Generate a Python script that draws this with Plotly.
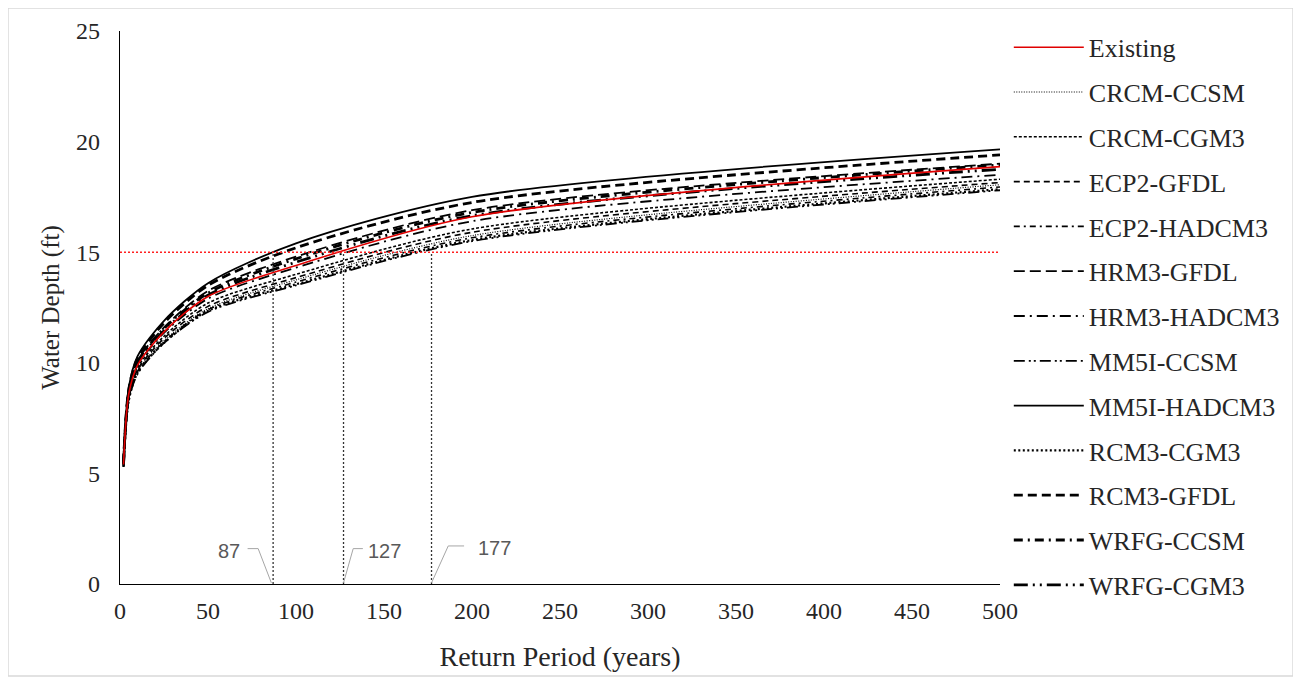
import plotly.graph_objects as go

# Return periods (years)
return_period = [2, 5, 10, 25, 50, 100, 200, 500]

# Water depth (ft) per scenario
existing     = [5.40, 8.60, 9.90, 11.40, 13.00, 14.40, 16.60, 18.87]
crcm_ccsm    = [5.30, 8.40, 9.65, 11.00, 12.45, 13.75, 15.75, 18.05]
crcm_cgm3    = [5.35, 8.50, 9.80, 11.20, 12.70, 14.00, 16.05, 18.30]
ecp2_gfdl    = [5.35, 8.45, 9.70, 11.10, 12.55, 13.85, 15.90, 18.15]
ecp2_hadcm3  = [5.30, 8.35, 9.60, 10.95, 12.40, 13.65, 15.65, 17.95]
hrm3_gfdl    = [5.45, 8.70, 10.10, 11.60, 13.25, 14.80, 16.90, 19.00]
hrm3_hadcm3  = [5.40, 8.60, 9.90, 11.35, 12.90, 14.30, 16.40, 18.50]
mm5i_ccsm    = [5.30, 8.30, 9.50, 10.90, 12.30, 13.50, 15.50, 17.80]
mm5i_hadcm3  = [5.50, 8.90, 10.30, 11.90, 13.60, 15.40, 17.50, 19.65]
rcm3_cgm3    = [5.30, 8.30, 9.55, 10.90, 12.35, 13.55, 15.55, 17.85]
rcm3_gfdl    = [5.50, 8.80, 10.20, 11.80, 13.50, 15.20, 17.25, 19.40]
wrfg_ccsm    = [5.45, 8.70, 10.05, 11.55, 13.15, 14.70, 16.80, 18.95]
wrfg_cgm3    = [5.40, 8.65, 10.00, 11.45, 13.05, 14.55, 16.65, 18.75]

series_names = ["Existing", "CRCM-CCSM", "CRCM-CGM3", "ECP2-GFDL", "ECP2-HADCM3",
                "HRM3-GFDL", "HRM3-HADCM3", "MM5I-CCSM", "MM5I-HADCM3",
                "RCM3-CGM3", "RCM3-GFDL", "WRFG-CCSM", "WRFG-CGM3"]
series_values = [existing, crcm_ccsm, crcm_cgm3, ecp2_gfdl, ecp2_hadcm3,
                 hrm3_gfdl, hrm3_hadcm3, mm5i_ccsm, mm5i_hadcm3,
                 rcm3_cgm3, rcm3_gfdl, wrfg_ccsm, wrfg_cgm3]

threshold_depth = 15
crossing_years = [87, 127, 177]
crossing_labels = ["87", "127", "177"]

styles = [
    ("#e00000", "solid", 1.6),
    ("black", "1px,1.5px", 1.2),
    ("black", "3px,2px", 1.6),
    ("black", "6px,4px", 1.6),
    ("black", "6px,4px,2px,4px", 1.6),
    ("black", "11px,5px", 1.8),
    ("black", "11px,5px,2px,5px", 1.8),
    ("black", "11px,4px,2px,3px,2px,4px", 1.8),
    ("black", "solid", 1.8),
    ("black", "2px,2.5px", 2.2),
    ("black", "9px,5px", 2.8),
    ("black", "9px,5px,2px,5px", 2.8),
    ("black", "14px,5px,2px,5px,2px,5px", 2.8),
]

fig = go.Figure()

# draw order: black lines first, existing on top
order = list(range(1, len(series_names))) + [0]
for i in order:
    color, dash, width = styles[i]
    fig.add_trace(go.Scatter(
        x=return_period, y=series_values[i], name=series_names[i],
        mode="lines", line=dict(color=color, dash=dash, width=width, shape="spline", smoothing=0.8),
        legendrank=i + 1, legendgroup=series_names[i], hoverinfo="skip"))

# 15 ft threshold line
fig.add_trace(go.Scatter(x=[0, 500], y=[threshold_depth, threshold_depth], mode="lines",
                         line=dict(color="#ff2020", dash="2px,2px", width=1.5),
                         showlegend=False, hoverinfo="skip"))
# vertical drop lines
for xc in crossing_years:
    fig.add_trace(go.Scatter(x=[xc, xc], y=[0, threshold_depth], mode="lines",
                             line=dict(color="#333333", dash="2px,2px", width=1.3),
                             showlegend=False, hoverinfo="skip"))

# leader lines (elbows) for the labels
leaders = [
    ([72.5, 78.5, 86.0], [1.6, 1.6, 0.05]),
    ([138.0, 132.5, 127.0], [1.6, 1.6, 0.05]),
    ([195.5, 186.5, 177.0], [1.72, 1.72, 0.05]),
]
for lx, ly in leaders:
    fig.add_trace(go.Scatter(x=lx, y=ly, mode="lines", line=dict(color="#a6a6a6", width=1),
                             showlegend=False, hoverinfo="skip"))
label_pos = [(62, 1.5), (150.5, 1.5), (213, 1.65)]
for (tx, ty), lab in zip(label_pos, crossing_labels):
    fig.add_annotation(x=tx, y=ty, text=lab, showarrow=False,
                       font=dict(family="Liberation Sans", size=20, color="#595959"))

# chart border
fig.add_shape(type="rect", xref="paper", yref="paper",
              x0=-0.1273, x1=1.333, y0=-0.1664, y1=1.0416,
              line=dict(color="#d9d9d9", width=1.5), fillcolor="rgba(0,0,0,0)", layer="below")

fig.update_layout(
    width=1301, height=677,
    margin=dict(l=112, r=309, t=23, b=101, autoexpand=False),
    paper_bgcolor="white", plot_bgcolor="white",
    font=dict(family="Liberation Serif", size=24, color="#262626"),
    showlegend=True,
    legend=dict(x=1.01, xanchor="left", y=1.013, yanchor="top", maxheight=1.0,
                font=dict(family="Liberation Serif", size=26, color="#262626"),
                tracegroupgap=8, itemwidth=70, bgcolor="rgba(0,0,0,0)"),
    xaxis=dict(range=[0, 500], tickvals=list(range(0, 501, 50)), showgrid=False, zeroline=False,
               showline=True, linecolor="black", linewidth=1.2, ticks="", ticklabelstandoff=5,
               automargin=False,
               title=dict(text="Return Period (years)", font=dict(size=28), standoff=23),
               tickfont=dict(size=24)),
    yaxis=dict(range=[0, 25], tickvals=list(range(0, 26, 5)), showgrid=False, zeroline=False,
               showline=True, linecolor="black", linewidth=1.2, ticks="", ticklabelstandoff=14,
               automargin=False,
               title=dict(text="Water Depth (ft)", font=dict(size=25), standoff=9),
               tickfont=dict(size=24)),
)

fig.write_html("out.html")
